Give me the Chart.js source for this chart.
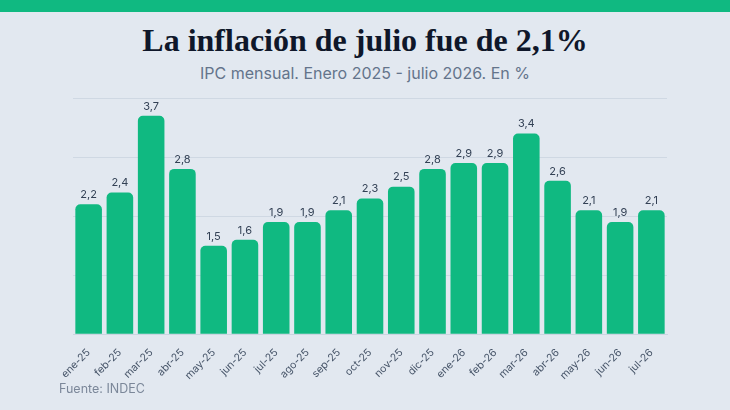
<!DOCTYPE html>
<html lang="es">
<head>
<meta charset="utf-8">
<script src="https://cdn.jsdelivr.net/npm/chart.js@4.4.1/dist/chart.umd.min.js"></script>
<style>
  html, body { margin: 0; padding: 0; }
  body {
    width: 730px; height: 410px; overflow: hidden; position: relative;
    background: #e2e8f0; font-family: Inter, sans-serif;
  }
  .topbar { position: absolute; left: 0; top: 0; width: 730px; height: 12px; background: #10b981; }
  h1 {
    position: absolute; left: 0; top: 20px; width: 730px; margin: 0; text-align: center;
    font-family: "Liberation Serif", serif; font-weight: bold; font-size: 32px; color: #0f172a;
    line-height: 40px;
  }
  .sub {
    position: absolute; left: 0; top: 63px; width: 730px; text-align: center;
    font-size: 16px; color: #64748b;
  }
  .chart { position: absolute; left: 0; top: 88px; width: 730px; height: 298px; }
  .fuente { position: absolute; left: 59px; top: 381px; font-size: 12.5px; color: #7b8799; }
</style>
</head>
<body>
<div class="topbar"></div>
<h1>La inflación de julio fue de 2,1%</h1>
<div class="sub">IPC mensual. Enero 2025 - julio 2026. En %</div>
<div class="chart"><canvas id="ipcChart"></canvas></div>
<div class="fuente">Fuente: INDEC</div>
<script>
  // Meses y variación mensual del IPC
  const meses = ['ene-25', 'feb-25', 'mar-25', 'abr-25', 'may-25', 'jun-25', 'jul-25', 'ago-25', 'sep-25',
    'oct-25', 'nov-25', 'dic-25', 'ene-26', 'feb-26', 'mar-26', 'abr-26', 'may-26', 'jun-26', 'jul-26'];
  const ipc = [2.2, 2.4, 3.7, 2.8, 1.5, 1.6, 1.9, 1.9, 2.1, 2.3, 2.5, 2.8, 2.9, 2.9, 3.4, 2.6, 2.1, 1.9, 2.1];

  // Etiquetas de valor encima de cada barra
  const valueLabels = {
    id: 'valueLabels',
    afterDatasetsDraw(chart) {
      const ctx = chart.ctx;
      const meta = chart.getDatasetMeta(0);
      ctx.save();
      ctx.font = '11px Inter, sans-serif';
      ctx.fillStyle = '#334155';
      ctx.textAlign = 'center';
      ctx.textBaseline = 'bottom';
      meta.data.forEach((bar, i) => {
        ctx.fillText(ipc[i].toFixed(1).replace('.', ','), bar.x, bar.y - 4);
      });
      ctx.restore();
    }
  };

  new Chart(document.getElementById('ipcChart'), {
    type: 'bar',
    data: {
      labels: meses,
      datasets: [{
        data: ipc,
        backgroundColor: '#10b981',
        borderRadius: { topLeft: 5, topRight: 5 },
        borderSkipped: 'bottom',
        barPercentage: 0.85,
        categoryPercentage: 1
      }]
    },
    options: {
      responsive: true,
      maintainAspectRatio: false,
      animation: false,
      layout: { padding: { left: 73, right: 63, top: 10, bottom: 0 } },
      plugins: {
        legend: { display: false },
        tooltip: { enabled: false }
      },
      scales: {
        x: {
          grid: { display: false },
          border: { color: '#cbd5e1' },
          ticks: {
            minRotation: 45, maxRotation: 45, autoSkip: false, padding: 4,
            color: '#475569', font: { family: 'Inter', size: 10.5 }
          }
        },
        y: {
          min: 0, max: 4,
          ticks: { display: false, stepSize: 1 },
          border: { display: false },
          grid: { color: '#cfd8e3', drawTicks: false }
        }
      }
    },
    plugins: [valueLabels]
  });
</script>
</body>
</html>
